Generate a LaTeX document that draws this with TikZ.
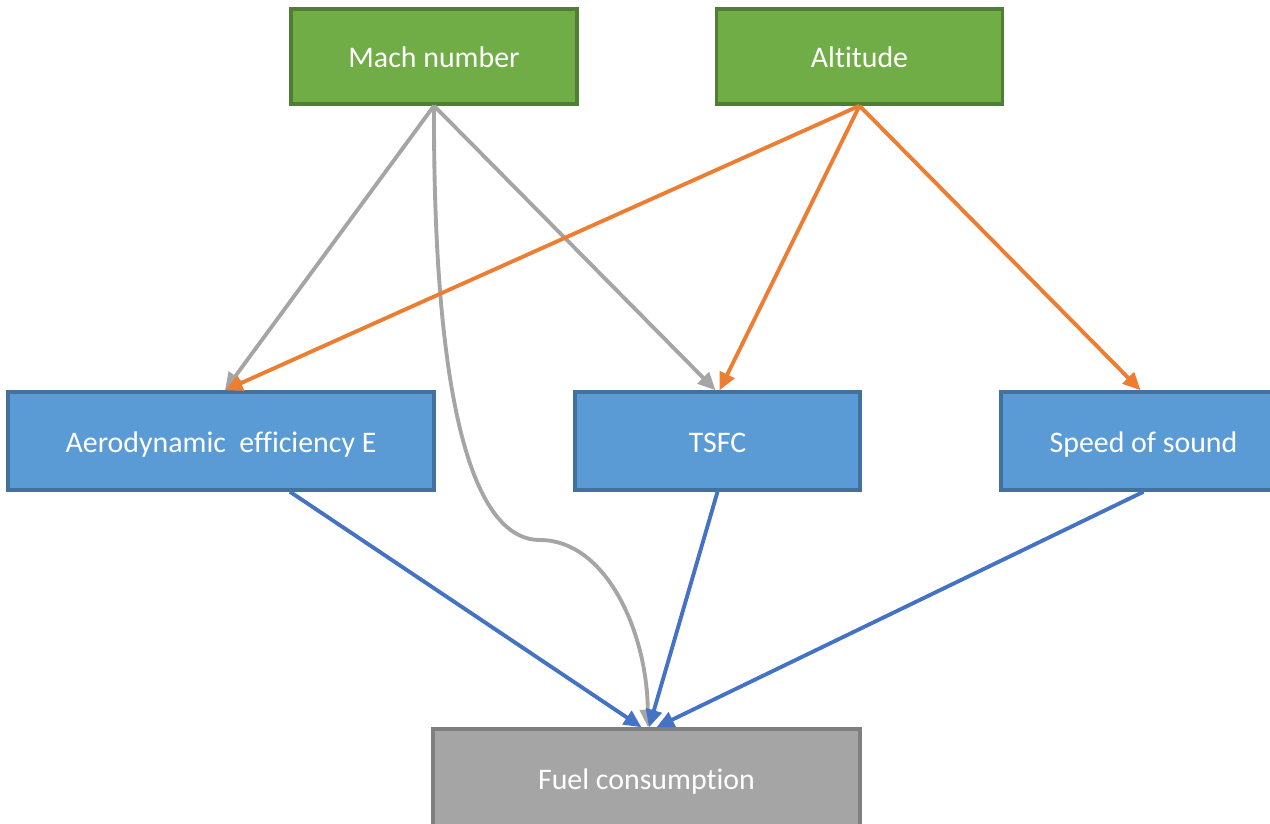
\documentclass[tikz,border=0pt]{standalone}
\usepackage{fontspec}
\setmainfont{Carlito}[RawFeature={-liga;-clig;-dlig}]
\usetikzlibrary{arrows.meta}
\definecolor{boxgreen}{HTML}{70AD47}
\definecolor{edgegreen}{HTML}{507E32}
\definecolor{boxblue}{HTML}{5B9BD5}
\definecolor{edgeblue}{HTML}{41719C}
\definecolor{boxgray}{HTML}{A5A5A5}
\definecolor{edgegray}{HTML}{7F7F7F}
\definecolor{linkorange}{HTML}{ED7D31}
\definecolor{linkblue}{HTML}{4472C4}
\definecolor{linkgray}{HTML}{A5A5A5}
\tikzset{
  box/.style={draw, line width=2pt, text=white, font=\fontsize{17}{20}\selectfont,
              inner sep=0pt, text height=0.5cm, text depth=0.06cm},
  inputbox/.style={box, fill=boxgreen, draw=edgegreen, minimum width=5.72cm, minimum height=1.9cm},
  midbox/.style={box, fill=boxblue, draw=edgeblue, minimum width=5.7cm, minimum height=1.96cm},
  outbox/.style={box, fill=boxgray, draw=edgegray, minimum width=8.54cm, minimum height=1.96cm},
  link/.style={line width=2.2pt, -{Triangle[length=10pt,width=9pt]}},
  graylink/.style={link, draw=linkgray},
  orangelink/.style={link, draw=linkorange},
  bluelink/.style={link, draw=linkblue},
}
\begin{document}
\begin{tikzpicture}[x=0.02cm, y=-0.02cm]
\useasboundingbox (0,0) rectangle (1270,823);
\begin{scope}
\clip (0,0) rectangle (1270,823);

% inputs
\node[inputbox] (mach) at (434,56.5) {Mach number};
\node[inputbox] (alt)  at (859.5,56.5) {Altitude};

% intermediate quantities
\node[midbox, minimum width=8.52cm] (aero) at (221,441) {Aerodynamic\hspace{0.45em}efficiency E};
\node[midbox] (tsfc)  at (717.5,441) {TSFC};
\node[midbox] (sound) at (1143.5,441) {Speed of sound};

% output
\node[outbox] (fuel) at (646.5,778) {Fuel consumption};

% Mach number links
\draw[graylink] (mach.south) -- ([xshift=0.08cm]aero.north);
\draw[graylink] (mach.south) -- ([xshift=-0.04cm]tsfc.north);
\coordinate (bend) at (540,540);
\draw[graylink] (mach.south) .. controls (433,400) and (472,540) .. (bend)
                .. controls (605,540) and (647,630) .. ([xshift=0.03cm]fuel.north);

% Altitude links
\draw[orangelink] (alt.south) -- ([xshift=0.08cm]aero.north);
\draw[orangelink] (alt.south) -- ([xshift=0.04cm]tsfc.north);
\draw[orangelink] (alt.south) -- ([xshift=-0.06cm]sound.north);

% links into fuel consumption
\draw[bluelink] ([xshift=1.38cm]aero.south) -- ([xshift=-0.1cm]fuel.north);
\draw[bluelink] (tsfc.south) -- ([xshift=0.05cm]fuel.north);
\draw[bluelink] (sound.south) -- ([xshift=0.2cm]fuel.north);
\end{scope}
\end{tikzpicture}
\end{document}
